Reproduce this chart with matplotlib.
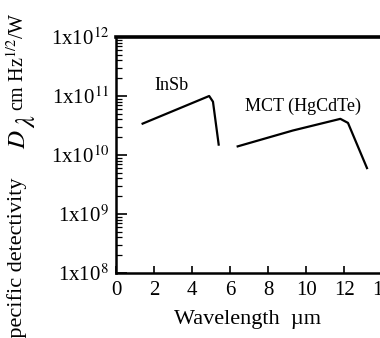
import matplotlib
matplotlib.use("Agg")
from matplotlib import pyplot as plt
import matplotlib.ticker as mtick

# wavelength (um) and detectivity (cm Hz^1/2 / W)
insb_wl = [1.4, 4.9, 5.1, 5.4]
insb_d = [3.4e10, 1.0e11, 8.0e10, 1.5e10]

mct_wl = [6.4, 9.3, 11.8, 12.2, 13.2]
mct_d = [1.4e10, 2.6e10, 4.1e10, 3.5e10, 6.0e9]

x_ticks = [0, 2, 4, 6, 8, 10, 12, 14]
y_ticks = [1e8, 1e9, 1e10, 1e11, 1e12]
y_labels = ["1x10$^{8}$", "1x10$^{9}$", "1x10$^{10}$", "1x10$^{11}$", "1x10$^{12}$"]

plt.rcParams['font.family'] = ['Liberation Serif', 'DejaVu Serif']
plt.rcParams['mathtext.fontset'] = 'stix'

fig = plt.figure(figsize=(3.8, 3.38), dpi=100)
# axes runs past the right edge, like the cropped original
ax = fig.add_axes([116 / 380, 65 / 338, 270 / 380, 236 / 338])

ax.plot(insb_wl, insb_d, color="black", lw=1.6)
ax.plot(mct_wl, mct_d, color="black", lw=1.6)

ax.set_yscale("log")
ax.set_ylim(1e8, 1e12)
ax.set_xlim(0, 14.2)

ax.set_xticks(x_ticks)
ax.set_yticks(y_ticks)
ax.set_yticklabels(y_labels)
ax.yaxis.set_minor_locator(mtick.LogLocator(base=10, subs=range(2, 10), numticks=20))
ax.yaxis.set_minor_formatter(mtick.NullFormatter())

ax.tick_params(axis='both', which='major', direction='in', labelsize=15, width=1.2)
ax.tick_params(axis='x', length=5, pad=6)
ax.tick_params(axis='y', which='major', length=8, pad=5)
ax.tick_params(axis='y', which='minor', direction='in', length=4, width=0.9)

ax.spines['top'].set_linewidth(2.6)
ax.spines['left'].set_linewidth(1.8)
ax.spines['bottom'].set_linewidth(1.8)
ax.spines['right'].set_visible(False)

ax.text(2.0, 1.25e11, "InSb", fontsize=13)
ax.text(6.8, 5.5e10, "MCT (HgCdTe)", fontsize=13)

ax.set_xlabel("Wavelength  \u00b5m", fontsize=16, labelpad=7)
ax.xaxis.label.set_x((248 - 116) / 270)

# y label: left part cut at the bottom edge, as in the original
fig.text(7 / 380, 1 - 177 / 338, "Specific detectivity", rotation=90,
         fontsize=16, ha='left', va='top')
fig.text(8 / 380, 1 - 129 / 338, "$D$", rotation=90,
         fontsize=18, ha='left', va='top')
fig.text(17 / 380, 1 - 114 / 338, "$\\lambda$", rotation=90,
         fontsize=19, ha='left', va='top')
fig.text(7 / 380, 1 - 12 / 338, "cm Hz$^{1/2}$/W", rotation=90,
         fontsize=14.5, ha='left', va='top')

fig.savefig("out.png", dpi=100)
